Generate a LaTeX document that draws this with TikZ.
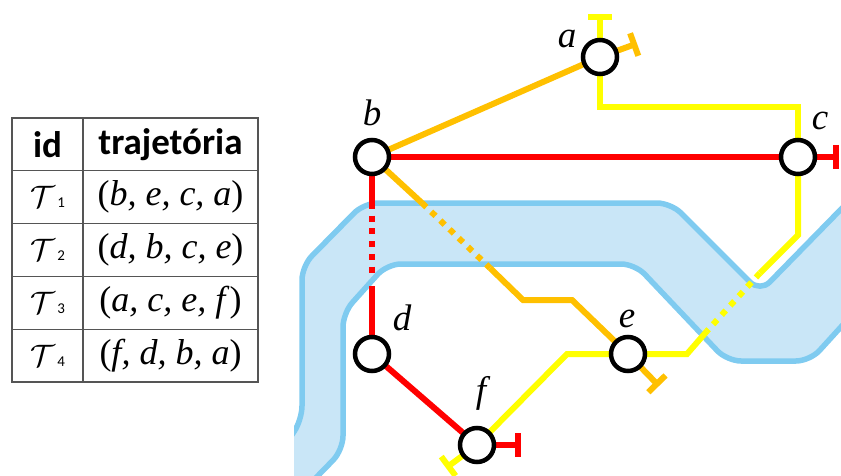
\documentclass[tikz,border=0pt]{standalone}
\usepackage{fontspec}
\usepackage{graphicx}
\setmainfont{Liberation Serif}
\newfontfamily\headfont{Carlito}
\usetikzlibrary{arrows.meta,backgrounds}
\definecolor{riverblue}{HTML}{7FCBF0}
\definecolor{riverbg}{HTML}{C9E6F7}
\definecolor{lineorange}{HTML}{FFC000}
\definecolor{lineyellow}{HTML}{FFFF00}
\definecolor{linered}{HTML}{FF0000}
\definecolor{tablegrey}{HTML}{555555}
\tikzset{
  stn/.style={circle, draw=black, line width=4.5pt, fill=white, minimum size=34pt,
              inner sep=0pt, outer sep=0pt},
  stnlbl/.style={font=\fontsize{37}{37}\selectfont\itshape, inner sep=0pt},
  route/.style={draw=#1, line width=6pt, line join=miter},
  dots/.style={draw=#1, line width=6pt, dash pattern=on 6pt off 6.7pt},
  tee/.style={draw=#1, line width=6pt, -{Bar[width=24pt,line width=6pt,length=0pt]}},
  rivedge/.style={draw=riverblue, line width=5.5pt, rounded corners=14pt},
  cell/.style={draw=tablegrey, line width=1.4pt, inner sep=0pt, minimum height=52.8pt},
  idcell/.style={cell, minimum width=71pt},
  trcell/.style={cell, minimum width=175pt, font=\fontsize{36}{36}\selectfont},
  headtxt/.style={font=\headfont\fontsize{37}{37}\selectfont\bfseries},
}
\newcommand{\trajid}[1]{\scalebox{3.1}{$\mathcal{T}$}{\headfont\fontsize{15}{15}\selectfont\,#1}}
\begin{document}
\begin{tikzpicture}[x=1pt,y=-1pt]
\useasboundingbox (0,0) rectangle (841,476);

% table
\node[idcell, headtxt] at (47.5,144.4) (idh) {id};
\node[trcell, headtxt] at (170.5,144.4) (trh) {trajetória};
\foreach \n/\y/\t in {1/197.2/{(\textit{b, e, c, a})},
                      2/250/{(\textit{d, b, c, e})},
                      3/302.8/{(\textit{a, c, e, f})},
                      4/355.6/{(\textit{f, d, b, a})}}{
  \node[idcell] at (47.5,\y) (id\n) {\trajid{\n}};
  \node[trcell] at (170.5,\y) (tr\n) {\t};
}

% stations
\node[stn] at (600,57) (a) {};
\node[stn] at (372,157) (b) {};
\node[stn] at (798,157) (c) {};
\node[stn] at (372,354) (d) {};
\node[stn] at (628,354) (e) {};
\node[stn] at (477,445) (f) {};
\node[stnlbl] at (567,39) (la) {a};
\node[stnlbl] at (372,113) (lb) {b};
\node[stnlbl] at (820,121) (lc) {c};
\node[stnlbl] at (402,318) (ld) {d};
\node[stnlbl] at (627,319) (le) {e};
\node[stnlbl] at (481,393) (lf) {f};

% free ends of the lines
\coordinate (ayend) at (600,14);
\coordinate (aoend) at (637,43.5);
\coordinate (crend) at (839,157);
\coordinate (frend) at (521,445);
\coordinate (fyend) at (446,468);
\coordinate (eoend) at (659,386);

\begin{scope}[on background layer]
  % river
  \begin{scope}
    \clip (294,0) rectangle (841,476);
    \fill[riverbg, rounded corners=14pt] (285,445) -- (302,420) -- (302,266) -- (364,203)
      -- (671,203) -- (760,292) -- (850,200) -- (850,317) -- (810,361) -- (727,361)
      -- (635,264) -- (387,264) -- (343,313) -- (343,450) -- (305,489) -- (285,489) -- cycle;
    \draw[rivedge] (285,445) -- (302,420) -- (302,266) -- (364,203) -- (671,203)
      -- (760,292) -- (850,200);
    \draw[rivedge] (305,489) -- (343,450) -- (343,313) -- (387,264) -- (635,264)
      -- (727,361) -- (810,361) -- (850,317);
  \end{scope}
  % orange
  \draw[route=lineorange] (b) -- (a);
  \draw[tee=lineorange] (a) -- (aoend);
  \draw[route=lineorange] (b) -- (422,203);
  \draw[dots=lineorange] (422,203) -- (490,268);
  \draw[route=lineorange] (490,268) -- (523,300) -- (572,300) -- (e);
  \draw[tee=lineorange] (e) -- (eoend);
  % red
  \draw[route=linered] (b) -- (c);
  \draw[tee=linered] (c) -- (crend);
  \draw[route=linered] (b) -- (372,203);
  \draw[dots=linered] (372,203) -- (372,279);
  \draw[route=linered] (372,286) -- (d);
  \draw[route=linered] (d) -- (f);
  \draw[tee=linered] (f) -- (frend);
  % yellow
  \draw[tee=lineyellow] (a) -- (ayend);
  \draw[route=lineyellow] (a) -- (600,107) -- (798,107) -- (c);
  \draw[route=lineyellow] (c) -- (798,235) -- (760,273);
  \draw[dots=lineyellow] (760,273) -- (707,331);
  \draw[route=lineyellow] (707,331) -- (687,354) -- (e);
  \draw[route=lineyellow] (e) -- (567,354) -- (f);
  \draw[tee=lineyellow] (f) -- (fyend);
\end{scope}
\end{tikzpicture}
\end{document}
